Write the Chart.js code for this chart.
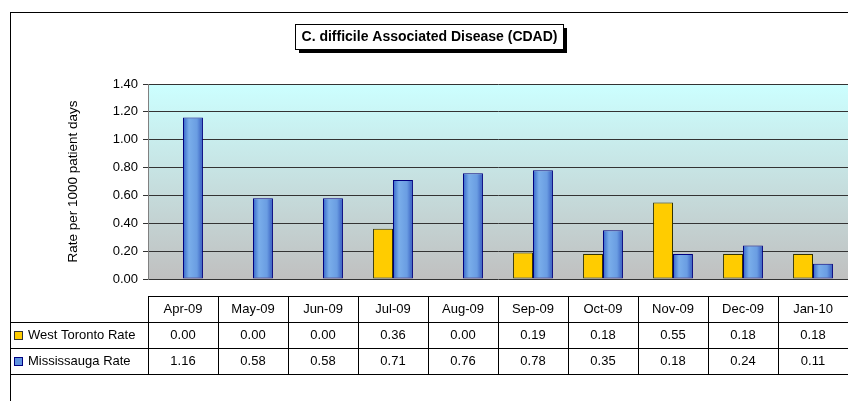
<!DOCTYPE html>
<html>
<head>
<meta charset="utf-8">
<script src="https://cdn.jsdelivr.net/npm/chart.js@4.4.0/dist/chart.umd.min.js"></script>
<style>
  body { margin: 0; background: #fff; }
  canvas { display: block; }
</style>
</head>
<body>
<canvas id="cdad" width="848" height="401"></canvas>
<script>
var months = ['Apr-09', 'May-09', 'Jun-09', 'Jul-09', 'Aug-09', 'Sep-09', 'Oct-09', 'Nov-09', 'Dec-09', 'Jan-10'];
var westToronto = [0.00, 0.00, 0.00, 0.36, 0.00, 0.19, 0.18, 0.55, 0.18, 0.18];
var mississauga = [1.16, 0.58, 0.58, 0.71, 0.76, 0.78, 0.35, 0.18, 0.24, 0.11];
var yTicks = [0, 0.2, 0.4, 0.6, 0.8, 1.0, 1.2, 1.4];

var seriesNames = ['West Toronto Rate', 'Mississauga Rate'];
var FONT = 'Arial, "Liberation Sans", sans-serif';
var CAT_PCT = 0.57;

// horizontal shading for the blue bars, worked out from the x scale
function blueFill(c) {
  var chart = c.chart;
  var xs = chart.scales.x;
  if (!xs || !chart.chartArea || xs.width <= 0) return '#6b9de0';
  var center = xs.getPixelForValue(c.dataIndex);
  var barW = xs.width / months.length * CAT_PCT / 2;
  var g = chart.ctx.createLinearGradient(center, 0, center + barW, 0);
  g.addColorStop(0, '#3566c8');
  g.addColorStop(0.3, '#7aaeea');
  g.addColorStop(0.7, '#6a9de2');
  g.addColorStop(1, '#3358bd');
  return g;
}

var frame = {
  id: 'frame',
  beforeDraw: function(chart) {
    var ctx = chart.ctx, a = chart.chartArea;
    ctx.save();
    // plot background
    var g = ctx.createLinearGradient(0, a.top, 0, a.bottom);
    g.addColorStop(0, '#ccffff');
    g.addColorStop(1, '#c0c0c0');
    ctx.fillStyle = g;
    ctx.fillRect(a.left, a.top, a.right - a.left, a.bottom - a.top);
    // outer border of the chart
    ctx.strokeStyle = '#000';
    ctx.lineWidth = 1;
    ctx.strokeRect(10.5, 12.5, 1000, 600);
    ctx.restore();
  },
  afterDraw: function(chart) {
    var ctx = chart.ctx, xs = chart.scales.x;
    ctx.save();

    // title box with shadow
    var title = 'C. difficile Associated Disease (CDAD)';
    ctx.font = 'bold 14px ' + FONT;
    var tw = ctx.measureText(title).width;
    var bw = Math.round(tw + 12), bh = 25;
    var bx = Math.round(429 - bw / 2), by = 24;
    ctx.fillStyle = '#000';
    ctx.fillRect(bx + 4, by + 4, bw, bh);
    ctx.fillStyle = '#fff';
    ctx.fillRect(bx, by, bw, bh);
    ctx.strokeStyle = '#000';
    ctx.lineWidth = 1;
    ctx.strokeRect(bx + 0.5, by + 0.5, bw, bh);
    ctx.fillStyle = '#000';
    ctx.textAlign = 'center';
    ctx.textBaseline = 'middle';
    ctx.fillText(title, bx + bw / 2 + 0.5, by + bh / 2 + 1);

    // data table under the plot
    var catW = xs.width / months.length;
    var rows = [296.5, 322.5, 348.5, 374.5];
    var left = xs.left, right = xs.right;
    ctx.strokeStyle = '#000';
    ctx.beginPath();
    ctx.moveTo(left, rows[0]); ctx.lineTo(right, rows[0]);
    ctx.moveTo(10, rows[1]); ctx.lineTo(right, rows[1]);
    ctx.moveTo(10, rows[2]); ctx.lineTo(right, rows[2]);
    ctx.moveTo(10, rows[3]); ctx.lineTo(right, rows[3]);
    for (var k = 0; k <= months.length; k++) {
      var vx = Math.round(left + k * catW) + 0.5;
      ctx.moveTo(vx, rows[0]); ctx.lineTo(vx, rows[3]);
    }
    ctx.stroke();

    ctx.font = '13px ' + FONT;
    ctx.textAlign = 'center';
    ctx.textBaseline = 'middle';
    ctx.fillStyle = '#000';
    var series = [westToronto, mississauga];
    months.forEach(function(m, i) {
      var cx = xs.getPixelForValue(i);
      ctx.fillText(m, cx, 309);
      ctx.fillText(series[0][i].toFixed(2), cx, 335);
      ctx.fillText(series[1][i].toFixed(2), cx, 361);
    });

    // legend keys in the table
    var keys = ['#ffcc00', '#5f93e0'];
    var keyBorders = ['#333', '#000080'];
    ctx.textAlign = 'left';
    for (var r = 0; r < 2; r++) {
      var ky = r === 0 ? 332 : 358;
      ctx.fillStyle = keys[r];
      ctx.fillRect(15, ky, 7, 7);
      ctx.strokeStyle = keyBorders[r];
      ctx.strokeRect(14.5, ky - 0.5, 8, 8);
      ctx.fillStyle = '#000';
      ctx.fillText(seriesNames[r], 28, r === 0 ? 335 : 361);
    }
    ctx.restore();
  }
};

new Chart(document.getElementById('cdad'), {
  type: 'bar',
  data: {
    labels: months,
    datasets: [{
      label: seriesNames[0],
      data: westToronto,
      backgroundColor: '#ffcc00',
      borderColor: '#333300',
      borderWidth: 1,
      borderSkipped: false
    }, {
      label: seriesNames[1],
      data: mississauga,
      backgroundColor: blueFill,
      borderColor: '#000080',
      borderWidth: 1,
      borderSkipped: false
    }]
  },
  options: {
    responsive: false,
    animation: false,
    events: [],
    categoryPercentage: CAT_PCT,
    barPercentage: 1.0,
    layout: { padding: { left: 60, right: 0, top: 84, bottom: 114 } },
    plugins: {
      legend: { display: false },
      title: { display: false },
      tooltip: { enabled: false }
    },
    scales: {
      x: {
        ticks: { display: false },
        grid: { display: false },
        border: { display: false }
      },
      y: {
        min: 0,
        max: 1.4,
        afterBuildTicks: function(scale) {
          scale.ticks = yTicks.map(function(v) { return { value: v }; });
        },
        afterFit: function(scale) { scale.width = 88; },
        ticks: {
          padding: 5,
          color: '#000',
          font: { family: FONT, size: 13 },
          callback: function(v) { return Number(v).toFixed(2); }
        },
        grid: { color: '#333', tickLength: 5 },
        border: { color: '#808080' },
        title: {
          display: true,
          text: 'Rate per 1000 patient days',
          color: '#000',
          font: { family: FONT, size: 13.5 },
          padding: { top: 5, bottom: 0 }
        }
      }
    }
  },
  plugins: [frame]
});
</script>
</body>
</html>
